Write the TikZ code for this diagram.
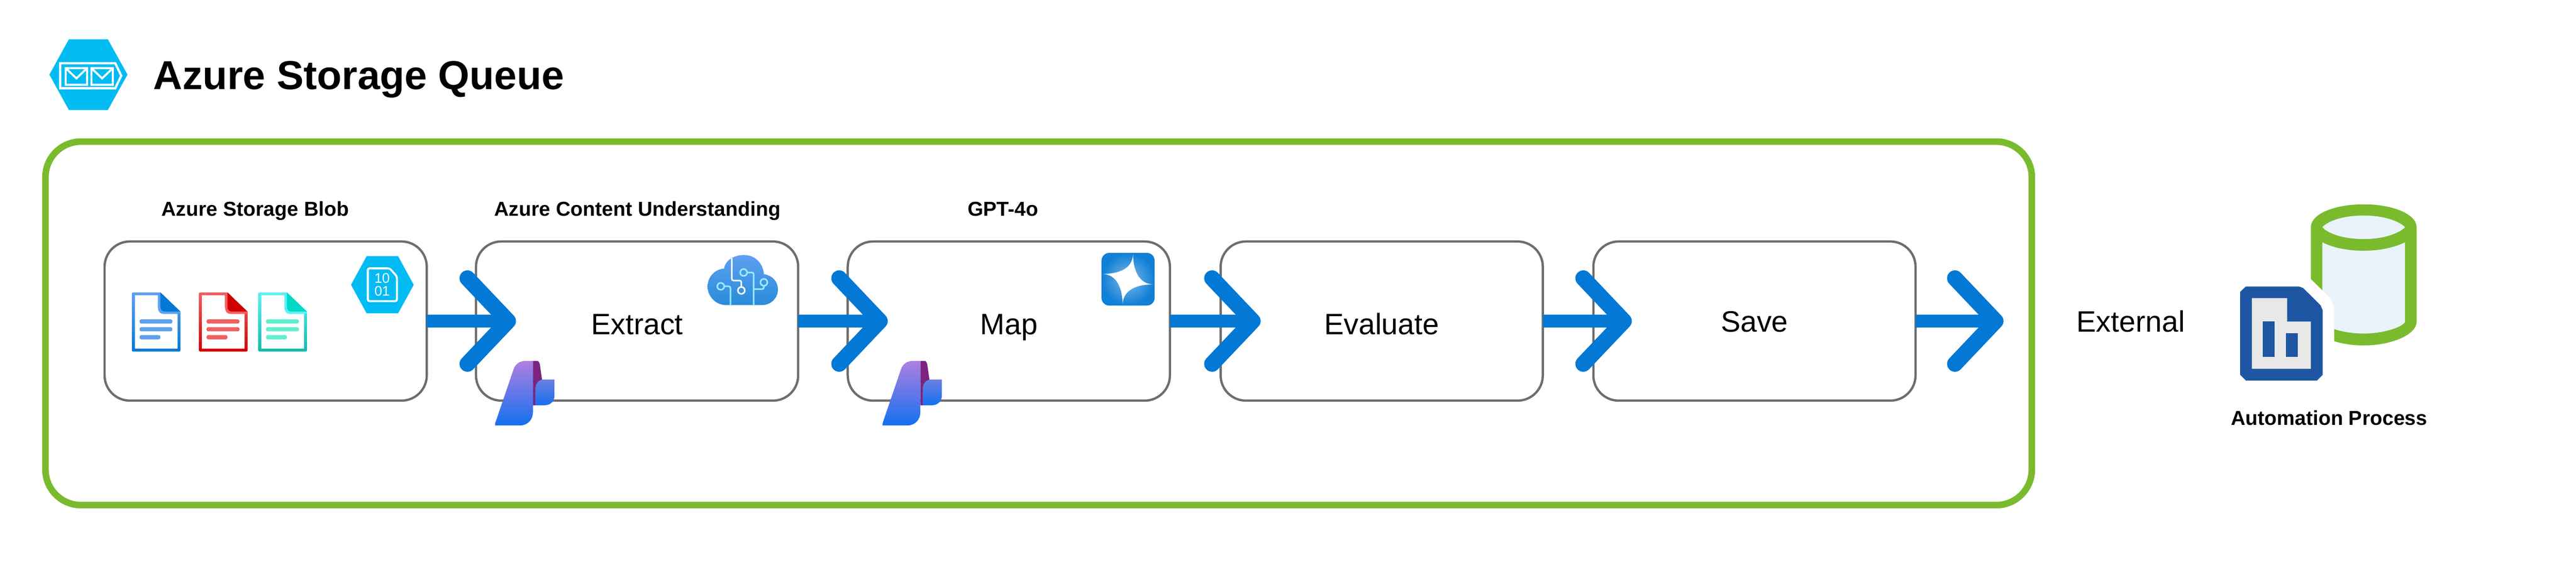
\documentclass[tikz,border=0pt]{standalone}
\usepackage{fontspec}
\setmainfont{Liberation Sans}
\usepackage{xcolor}
\usepackage{tikz}
\usetikzlibrary{arrows.meta}
\definecolor{framegreen}{RGB}{122,187,45}
\definecolor{boxgray}{RGB}{109,109,109}
\definecolor{flowblue}{RGB}{3,120,212}
\definecolor{hexcyan}{RGB}{0,188,242}
\definecolor{palecan}{RGB}{234,243,250}
\definecolor{sheetblue}{RGB}{31,86,163}
\definecolor{sheetgray}{RGB}{232,232,232}
\definecolor{circuitcyan}{RGB}{156,235,255}
\definecolor{pagelight}{RGB}{94,160,239}
\definecolor{redlight}{RGB}{241,96,96}
\definecolor{reddark}{RGB}{208,0,0}
\definecolor{teallight}{RGB}{95,240,245}
\definecolor{tealdark}{RGB}{20,184,166}
\definecolor{tealfold}{RGB}{0,216,200}
\definecolor{tealbar}{RGB}{96,240,208}
\definecolor{ribbonlight}{RGB}{174,127,226}
\definecolor{ribbonmid}{RGB}{47,111,234}
\definecolor{ribbonblue}{RGB}{21,112,239}
\definecolor{stripdark}{RGB}{123,37,128}
\definecolor{strippink}{RGB}{224,47,160}
\definecolor{tablight}{RGB}{108,128,224}
\tikzset{
  stepbox/.style={draw=boxgray,line width=1.05pt,fill=white,rounded corners=11.5pt,minimum width=146.7pt,minimum height=72.5pt,inner sep=0pt,outer sep=0pt,font=\fontsize{13.45}{16}\selectfont,text height=12.2pt,text depth=0pt},
  steplabel/.style={anchor=base,inner sep=0pt,font=\bfseries\fontsize{9.2}{11}\selectfont},
  flowarrow/.style={draw=flowblue,line width=5.95pt,shorten >=-18.2pt,-{Straight Barb[length=18.5pt,width=39pt,line width=7.2pt,round]}},
}
% page icon, #1 = left edge, #2 #3 = border shading, #4 = fold, #5 = bars
\newcommand{\pageicon}[5]{
\begin{scope}[shift={(#1,177.6)},yscale=0.986]
\shade [top color=#2,bottom color=#3,rounded corners=0.4pt] (0,0) -- (17.3,0) -- (29.5,11.8) -- (29.5,36.4) -- (0,36.4) -- cycle ;
\fill [white] (1.8,1.8) -- (15.8,1.8) -- (15.8,9) .. controls (15.8,11.5) and (17,13.2) .. (19,13.2) -- (27.7,13.2) -- (27.7,34.6) -- (1.8,34.6) -- cycle ;
\fill [#2] (15.8,1.8) -- (15.8,9) .. controls (15.8,11.5) and (17,13.2) .. (19,13.2) -- (29.5,13.2) -- (29.5,11.8) -- (17.3,0) -- cycle ;
\fill [#4] (17.3,0) -- (29.3,11.8) -- (19.8,11.8) .. controls (18.2,11.8) and (17.3,10.5) .. (17.3,8.8) -- cycle ;
\fill [#5,rounded corners=0.8pt] (4.6,16.6) rectangle (24.6,19.2) ;
\fill [#5,rounded corners=0.8pt] (4.6,21.4) rectangle (24.6,24) ;
\fill [#5,rounded corners=0.8pt] (4.6,26.3) rectangle (17.3,28.9) ;
\end{scope}
}
% foundry icon, #1 = left edge
\newcommand{\foundryicon}[1]{
\begin{scope}[shift={(#1,219)},yscale=0.99]
\shade [top color=stripdark,middle color=strippink,bottom color=stripdark] (23,0.2) -- (25.4,0.2) .. controls (26.6,0.2) and (27,1.5) .. (27.2,2.6) -- (29.7,20) -- (29.7,27.4) -- (23,27.4) -- cycle ;
\shade [shading angle=-25,top color=ribbonlight,middle color=ribbonmid,bottom color=ribbonblue] (0,39.8) -- (0.2,38) -- (11,6) .. controls (12,2.5) and (14.5,0.2) .. (18.5,0.2) -- (23,0.2) -- (23,31.6) .. controls (23,36) and (20,39.8) .. (15.1,39.8) -- cycle ;
\shade [top color=tablight,bottom color=ribbonblue] (36,11.6) -- (29.6,11.6) .. controls (26.5,11.6) and (24.6,14) .. (24.6,16.7) -- (24.6,27.4) -- (30.1,27.4) .. controls (33.5,27.4) and (36,25) .. (36,21.7) -- cycle ;
\end{scope}
}
\begin{document}
\begin{tikzpicture}[x=0.75pt,y=0.75pt,yscale=-1,xscale=1]
\useasboundingbox (0,0) rectangle (1564,354.4);
%Shape: Hexagon queue icon
\fill [hexcyan] (30,45.3) -- (41.8,23.9) -- (65.5,23.9) -- (77.4,45.3) -- (65.5,66.8) -- (41.8,66.8) -- cycle ;
\draw [white,line width=1pt] (36.5,38.4) -- (70,38.4) -- (73.6,46) -- (70,53.6) -- (36.5,53.6) -- cycle ;
\draw [white,line width=0.9pt] (39.9,41.4) rectangle (52.9,51.5) (39.9,41.4) -- (46.4,47.6) -- (52.9,41.4) ;
\draw [white,line width=0.9pt] (55.5,41.4) rectangle (68.5,51.5) (55.5,41.4) -- (62,47.6) -- (68.5,41.4) ;
% Text Node
\draw (92.8,54.3) node [anchor=base west,inner sep=0pt,font=\bfseries\fontsize{18.4}{22}\selectfont] (title) {Azure Storage Queue};
%Shape: Rectangle outer frame
\draw [framegreen,line width=3pt,rounded corners=16.2pt] (27.6,86) -- (1233.6,86) -- (1233.6,306.8) -- (27.6,306.8) -- cycle ;
% Text Node
\draw (155,131.1) node [steplabel] (bloblabel) {Azure Storage Blob};
\draw (387,131.1) node [steplabel] (extractlabel) {Azure Content Understanding};
\draw (609,131.1) node [steplabel] (maplabel) {GPT-4o};
%Shape: Rectangle steps
\draw (161.3,195) node [stepbox] (blob) {};
\draw (386.8,195) node [stepbox] (extract) {Extract};
\draw (612.5,195) node [stepbox] (map) {Map};
\draw (838.9,195) node [stepbox] (evaluate) {Evaluate};
\draw (1065.2,195) node [stepbox,text height=9.8pt] (save) {Save};
\coordinate (out) at (1216.4,195);
%Straight Lines
\draw [flowarrow] (blob) -- (extract.west) ;
\draw [flowarrow] (extract) -- (map.west) ;
\draw [flowarrow] (map) -- (evaluate.west) ;
\draw [flowarrow,shorten >=-17.5pt] (evaluate) -- (save.west) ;
\draw [flowarrow,shorten >=0pt] (save) -- (out) ;
%Shape: page icons
\pageicon{80.1}{pagelight}{flowblue}{flowblue}{pagelight}
\pageicon{120.8}{redlight}{reddark}{reddark}{redlight}
\pageicon{156.9}{teallight}{tealdark}{tealfold}{tealbar}
%Shape: Hexagon blob icon
\fill [hexcyan] (213.1,173) -- (222.6,155.6) -- (241.7,155.6) -- (251.2,173) -- (241.7,190.3) -- (222.6,190.3) -- cycle ;
\draw [white,line width=0.9pt,rounded corners=0.8pt] (223.3,163) -- (236.6,163) -- (241,167.9) -- (241,182.9) -- (223.3,182.9) -- cycle ;
\draw (232,169.1) node [white,inner sep=0pt,font=\fontsize{6.3}{7}\selectfont] (bitsa) {10};
\draw (232,176.9) node [white,inner sep=0pt,font=\fontsize{6.3}{7}\selectfont] (bitsb) {01};
%Shape: foundry icons
\foundryicon{300.6}
\foundryicon{535.8}
%Shape: Cloud
\begin{scope}[shift={(-0.7,-0.2)}]
\shade [top color=pagelight,bottom color=flowblue!85!white] (441.7,185.5) .. controls (435,185.5) and (430.3,180) .. (430.3,174.3) .. controls (430.3,168.5) and (434.5,163.8) .. (440.3,163.3) .. controls (441,158.5) and (446,155.1) .. (452.5,155.1) .. controls (459,155.1) and (464,160) .. (464.5,166.7) .. controls (469.5,167.5) and (473,171) .. (473,176.1) .. controls (473,181.5) and (468.5,185.5) .. (463.3,185.5) -- cycle ;
\draw [white,line width=0.7pt,rounded corners=0.8pt] (445,157) -- (445,170.6) -- (450.8,170.6) -- (450.8,174.2) ;
\draw [white,line width=0.7pt] (450.8,176.6) circle (2.1) ;
\draw [circuitcyan,line width=0.7pt,rounded corners=0.8pt] (440.4,174.1) -- (444.2,174.1) -- (444.2,185.5) ;
\draw [circuitcyan,line width=0.7pt] (438.3,174.1) circle (2.1) ;
\draw [circuitcyan,line width=0.7pt,rounded corners=0.8pt] (454.3,165.7) -- (458.3,165.7) -- (458.3,185.5) ;
\draw [circuitcyan,line width=0.7pt] (452.2,165.7) circle (2.1) ;
\draw [circuitcyan,line width=0.7pt,rounded corners=0.8pt] (464.5,173.8) -- (464.5,175.8) -- (458.3,175.8) ;
\draw [circuitcyan,line width=0.7pt] (464.5,171.7) circle (2.1) ;
\end{scope}
%Shape: star tile
\shade [inner color=flowblue!50!white,outer color=flowblue!95!white,rounded corners=3.5pt] (668.8,153.6) rectangle (701,185.6) ;
\fill [white] (687.9,153.9) .. controls (687.9,165) and (692,172.7) .. (700.4,172.7) .. controls (692,172.7) and (681.6,175) .. (681.6,185.3) .. controls (681.6,175) and (678,166.4) .. (669.1,166.4) .. controls (678,166.4) and (687.9,164) .. (687.9,153.9) -- cycle ;
% Text Node
\draw (1293.7,201.6) node [anchor=base,inner sep=0pt,font=\fontsize{13.45}{16}\selectfont] (external) {External};
%Shape: Can
\fill [framegreen] (1403,138) .. controls (1403,129.8) and (1417.7,124.1) .. (1435.1,124.1) .. controls (1452.1,124.1) and (1467.2,129.8) .. (1467.2,138) -- (1467.2,195.6) .. controls (1467.2,203.1) and (1452.1,209.8) .. (1435.1,209.8) .. controls (1417.7,209.8) and (1403,203.1) .. (1403,195.6) -- cycle ;
\fill [palecan] (1410,147.2) .. controls (1416.7,150.6) and (1425.6,152.3) .. (1435.1,152.3) .. controls (1444.2,152.3) and (1453,150.6) .. (1460.2,147.2) -- (1460.2,195.6) .. controls (1458,199.1) and (1446.2,202.6) .. (1435.1,202.6) .. controls (1423.6,202.6) and (1411.8,199.1) .. (1410,195.6) -- cycle ;
\fill [palecan] (1410,138) .. controls (1413.8,133.8) and (1423.6,130.9) .. (1435.1,130.9) .. controls (1446.2,130.9) and (1456,133.8) .. (1460.2,138) .. controls (1456,142.2) and (1446.2,145.2) .. (1435.1,145.2) .. controls (1423.6,145.2) and (1413.8,142.2) .. (1410,138) -- cycle ;
%Shape: cut round sheet
\fill [white] (1397.5,159.6) -- (1403,169.5) -- (1415,181.3) -- (1417.2,186.9) -- (1417.2,214) -- (1397.5,214) -- cycle ;
%Shape: sheet icon
\fill [sheetblue] (1363.5,174) -- (1395.9,174) -- (1398.4,175) -- (1408.9,185.4) -- (1410.2,188.5) -- (1410.2,227.6) -- (1406.7,231.1) -- (1363.5,231.1) -- (1360.1,227.6) -- (1360.1,177.3) -- cycle ;
\fill [sheetgray] (1367.2,181.1) -- (1388.6,181.1) -- (1388.6,195.3) -- (1403,195.3) -- (1403,224) -- (1367.2,224) -- cycle ;
\fill [sheetblue] (1373.8,195.3) rectangle (1381,216.9) ;
\fill [sheetblue] (1387.9,202.5) rectangle (1395.2,216.9) ;
% Text Node
\draw (1414.1,258.2) node [steplabel] (autolabel) {Automation Process};
\end{tikzpicture}
\end{document}
